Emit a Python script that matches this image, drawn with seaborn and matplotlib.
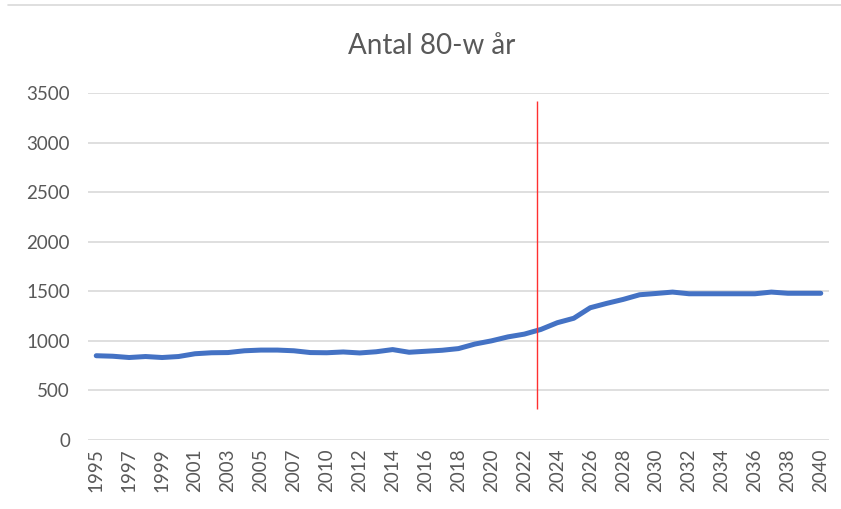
import matplotlib
matplotlib.use("Agg")
import matplotlib.pyplot as plt
from matplotlib.lines import Line2D
import numpy as np
import pandas as pd
import seaborn as sns

# ---- data ----
years = ["1995", "1996", "1997", "1998", "1999", "2000", "2001", "2002", "2003",
         "2004", "2005", "2006", "2007", "2009", "2010", "2011", "2012", "2013",
         "2014", "2015", "2016", "2017", "2018", "2019", "2020", "2021", "2022",
         "2023", "2024", "2025", "2026", "2027", "2028", "2029", "2030", "2031",
         "2032", "2033", "2034", "2035", "2036", "2037", "2038", "2039", "2040"]
antal = [850, 845, 832, 842, 832, 842, 870, 880, 882,
         900, 907, 907, 900, 882, 880, 888, 878, 890,
         912, 885, 895, 905, 922, 968, 1000, 1040, 1068,
         1115, 1183, 1228, 1334, 1378, 1418, 1465, 1478, 1492,
         1475, 1475, 1475, 1475, 1475, 1492, 1480, 1480, 1480]
y_ticks = [0, 500, 1000, 1500, 2000, 2500, 3000, 3500]
title = "Antal 80-w år"
marker_pos = 26.75          # red vertical marker (between 2022 and 2023)
marker_range = (310, 3420)

# ---- plot ----
sns.set_theme(style="white")
plt.rcParams["font.family"] = ["Lato", "DejaVu Sans"]

df = pd.DataFrame({"pos": np.arange(len(years)), "antal": antal})

fig = plt.figure(figsize=(8.41, 5.09), dpi=100)
ax = fig.add_axes([88 / 841, 1 - 440 / 509, (829 - 88) / 841, (440 - 93) / 509])

grey_grid = "#d9d9d9"
text_col = "#595959"

ax.set_ylim(0, 3500)
ax.set_xlim(-0.5, len(years) - 0.5)
ax.set_yticks(y_ticks)
ax.yaxis.grid(True, color=grey_grid, linewidth=1.2)
ax.xaxis.grid(False)
ax.set_axisbelow(True)

sns.lineplot(data=df, x="pos", y="antal", ax=ax, color="#4472C4",
             linewidth=3.6, solid_capstyle="round", solid_joinstyle="round")

ax.vlines(marker_pos, marker_range[0], marker_range[1], color="#ff3030", linewidth=1.0)

for s in ax.spines.values():
    s.set_visible(False)

tick_pos = list(range(0, len(years), 2))
ax.set_xticks(tick_pos)
ax.set_xticklabels([years[i] for i in tick_pos], rotation=90, fontsize=13.5, color=text_col)
ax.tick_params(axis="y", labelsize=13.5, labelcolor=text_col, length=0, pad=13)
ax.tick_params(axis="x", length=0, pad=6)
ax.set_xlabel("")
ax.set_ylabel("")

fig.text(0.513, 1 - 46 / 509, title, ha="center", va="center", fontsize=20,
         color=text_col, fontweight="normal")

fig.add_artist(Line2D([8 / 841, 1.0], [1 - 5 / 509, 1 - 5 / 509],
                      transform=fig.transFigure, color=grey_grid, linewidth=1.2))

fig.savefig("out.png", dpi=100)
